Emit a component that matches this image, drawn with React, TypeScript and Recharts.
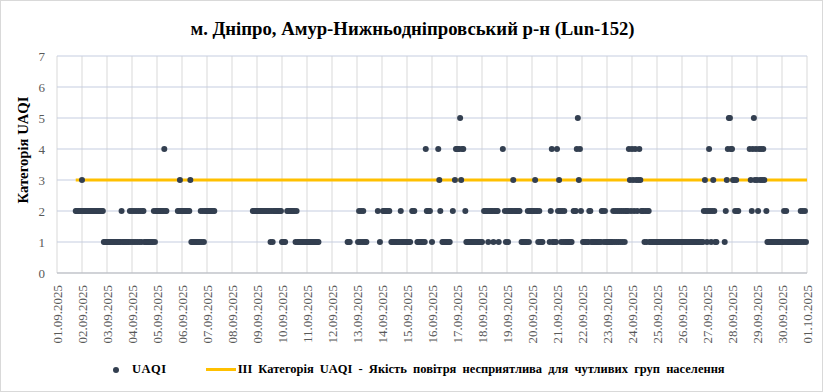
import { ComposedChart, Scatter, Line, XAxis, YAxis, CartesianGrid } from "recharts"

const title = "м. Дніпро, Амур-Нижньодніпровський р-н (Lun-152)"
const yTitle = "Категорія UAQI"
const seriesName = "UAQI"
const thresholdName = "ІІІ Категорія UAQI - Якість повітря несприятлива для чутливих груп населення"

const dayLabels = [
  "01.09.2025", "02.09.2025", "03.09.2025", "04.09.2025", "05.09.2025", "06.09.2025", "07.09.2025", "08.09.2025",
  "09.09.2025", "10.09.2025", "11.09.2025", "12.09.2025", "13.09.2025", "14.09.2025", "15.09.2025", "16.09.2025",
  "17.09.2025", "18.09.2025", "19.09.2025", "20.09.2025", "21.09.2025", "22.09.2025", "23.09.2025", "24.09.2025",
  "25.09.2025", "26.09.2025", "27.09.2025", "28.09.2025", "29.09.2025", "30.09.2025", "01.10.2025",
]
const yTicks = [0, 1, 2, 3, 4, 5, 6, 7]
const thresholdLevel = 3

// hourly UAQI category, one string of 24 hours per day, "." = no data
const hourlyByDay = [
  "..................222222",
  "322222222222222222222111",
  "111111111111112111111121",
  "212121212122111111111212",
  "2222222422..........2232",
  "222222223111111111212122",
  "22222222................",
  "....................2222",
  "222222222222212122222222",
  "1111.2222222212111111111",
  "111111111111............",
  "...............111......",
  ".121212111..........2.1.",
  ".2222222.111111111211111",
  "1111.222..1111111142222.",
  "1.....432.11111111..2.34",
  "4445344.2111111111111111",
  "1.222212222122221...4.21",
  "2122223222222.1111112122",
  "22232212111......1241111",
  "423212121111111.22245342",
  ".11111122111111111122121",
  "111111212121212121222432",
  "432432343222121221111111",
  "111111111111111111111111",
  "111111111111111111111232",
  "1242123211.......1234554",
  "4332322..........4324534",
  "32434343.211111111111111",
  "112121111111111111212121",
]

const points = hourlyByDay.flatMap((s, d) =>
  s.split("").flatMap((c, h) => (c === "." ? [] : [{ x: d * 24 + h, y: Number(c) }]))
)
const lastHour = hourlyByDay.length * 24
const thresholdLine = [
  { x: points[0].x, y: thresholdLevel },
  { x: lastHour, y: thresholdLevel },
]
const xTicks = dayLabels.map((_, i) => i * 24)

const font = "'Liberation Serif', 'Times New Roman', serif"
const dotColor = "#333f50"
const lineColor = "#ffc000"

const DateTick = (props: any) => {
  const { x, y, payload } = props
  return (
    <g transform={`translate(${x},${y})`}>
      <text transform="rotate(-90)" x={-4} y={0} dy="0.35em" textAnchor="end" fontSize={13} fontFamily={font} fill="#595959">
        {dayLabels[Math.round(payload.value / 24)]}
      </text>
    </g>
  )
}

const Dot = (props: any) => <circle cx={props.cx} cy={props.cy} r={3} fill={dotColor} />

export default function App() {
  return (
    <div style={{ position: "absolute", left: 0, top: 0, width: 823, height: 392, background: "#fff", border: "1px solid #d9d9d9", boxSizing: "border-box", fontFamily: font }}>
      <div style={{ position: "absolute", left: 0, top: 17, width: 823, textAlign: "center", fontSize: 18.7, fontWeight: "bold", color: "#000" }}>{title}</div>
      <div style={{ position: "absolute", left: 22, top: 149, transform: "translate(-50%,-50%) rotate(-90deg)", whiteSpace: "nowrap", fontSize: 14.7, fontWeight: "bold" }}>{yTitle}</div>
      <div style={{ position: "absolute", top: 0, left: -1 }}>
        <ComposedChart width={823} height={392} margin={{ top: 55, right: 16, left: 0, bottom: 40 }}>
          <CartesianGrid horizontal={false} stroke="#d9d9d9" />
          <CartesianGrid vertical={false} stroke="#c5cde0" />
          <XAxis type="number" dataKey="x" domain={[0, lastHour]} ticks={xTicks} interval={0} height={80} tick={<DateTick />} tickLine={false} axisLine={{ stroke: "#bfbfbf" }} />
          <YAxis type="number" dataKey="y" domain={[0, 7]} ticks={yTicks} width={57} tickLine={false} axisLine={false} tick={{ fontSize: 13, fontFamily: font, fill: "#595959", dx: -4 }} />
          <Line data={thresholdLine} dataKey="y" stroke={lineColor} strokeWidth={3} dot={false} isAnimationActive={false} />
          <Scatter data={points} name={seriesName} fill={dotColor} shape={<Dot />} isAnimationActive={false} />
        </ComposedChart>
      </div>
      <div style={{ position: "absolute", top: 361, left: 112, display: "flex", alignItems: "center", fontSize: 12.5, fontWeight: "bold", whiteSpace: "nowrap" }}>
        <span style={{ display: "inline-block", width: 6, height: 6, borderRadius: 3, background: dotColor, marginRight: 13 }} />
        <span style={{ letterSpacing: 0.5 }}>{seriesName}</span>
        <span style={{ display: "inline-block", width: 30, height: 3, background: lineColor, marginLeft: 39, marginRight: 2 }} />
        <span style={{ wordSpacing: 3 }}>{thresholdName}</span>
      </div>
    </div>
  )
}
